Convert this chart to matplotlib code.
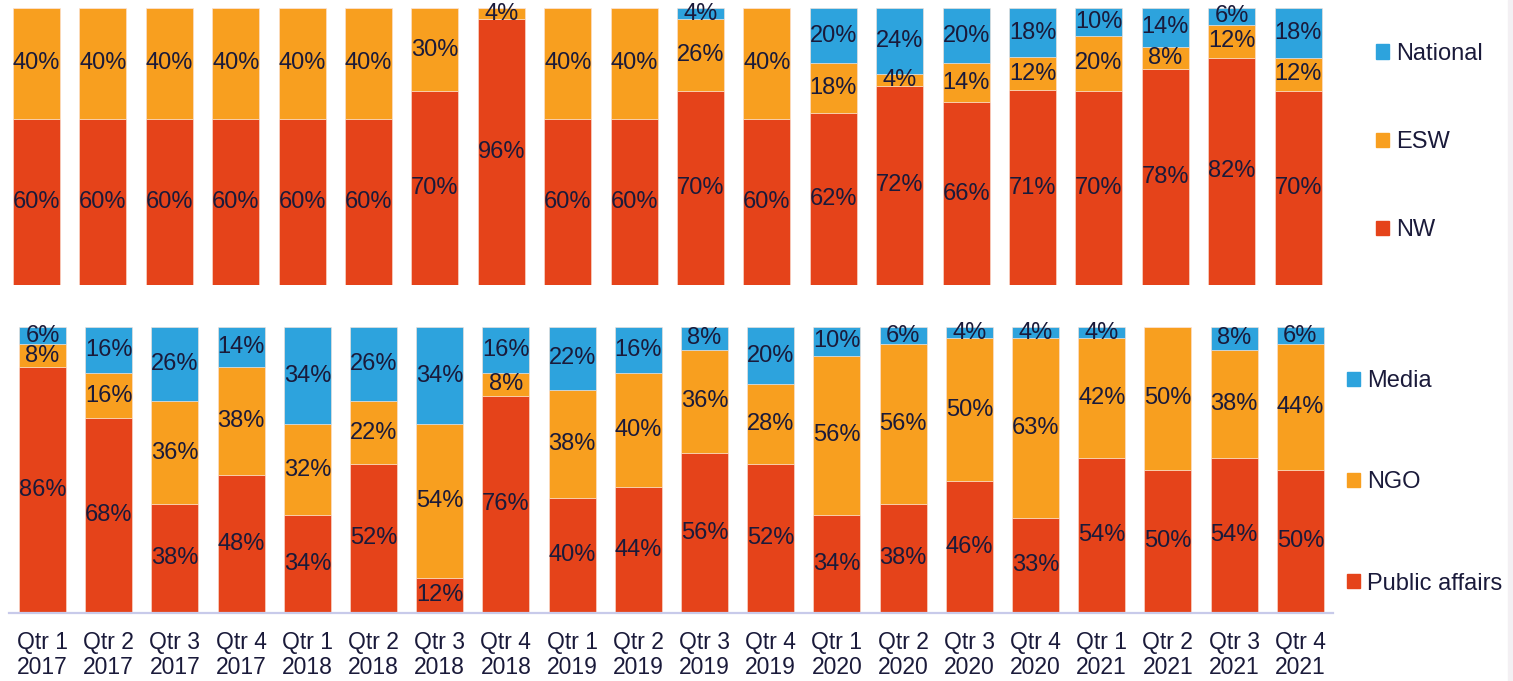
import matplotlib
matplotlib.use("Agg")
import matplotlib.pyplot as plt
import numpy as np
from matplotlib.patches import Patch, Rectangle

plt.rcParams['font.family'] = ['Liberation Sans', 'DejaVu Sans']

quarters = ["Qtr 1\n2017", "Qtr 2\n2017", "Qtr 3\n2017", "Qtr 4\n2017",
            "Qtr 1\n2018", "Qtr 2\n2018", "Qtr 3\n2018", "Qtr 4\n2018",
            "Qtr 1\n2019", "Qtr 2\n2019", "Qtr 3\n2019", "Qtr 4\n2019",
            "Qtr 1\n2020", "Qtr 2\n2020", "Qtr 3\n2020", "Qtr 4\n2020",
            "Qtr 1\n2021", "Qtr 2\n2021", "Qtr 3\n2021", "Qtr 4\n2021"]

# Top panel
nw       = [60, 60, 60, 60, 60, 60, 70, 96, 60, 60, 70, 60, 62, 72, 66, 71, 70, 78, 82, 70]
esw      = [40, 40, 40, 40, 40, 40, 30, 4, 40, 40, 26, 40, 18, 4, 14, 12, 20, 8, 12, 12]
national = [0, 0, 0, 0, 0, 0, 0, 0, 0, 0, 4, 0, 20, 24, 20, 18, 10, 14, 6, 18]

# Bottom panel
public_affairs = [86, 68, 38, 48, 34, 52, 12, 76, 40, 44, 56, 52, 34, 38, 46, 33, 54, 50, 54, 50]
ngo            = [8, 16, 36, 38, 32, 22, 54, 8, 38, 40, 36, 28, 56, 56, 50, 63, 42, 50, 38, 44]
media          = [6, 16, 26, 14, 34, 26, 34, 16, 22, 16, 8, 20, 10, 6, 4, 4, 4, 0, 8, 6]

RED = "#E5431A"
ORANGE = "#F89F1F"
BLUE = "#2DA3DD"
TXT = "#1A1A3A"

W, H = 1513, 681
fig = plt.figure(figsize=(W / 100, H / 100), dpi=100)
fig.patches.append(Rectangle((1508 / W, 0), 5 / W, 1, transform=fig.transFigure,
                             color="#F3F0F3", zorder=0))


def px_axes(left, top, right, bottom):
    return fig.add_axes([left / W, 1 - bottom / H, (right - left) / W, (bottom - top) / H])


def draw_stack(ax, series, colors):
    x = np.arange(len(quarters))
    arr = np.array(series, dtype=float)
    tot = arr.sum(axis=0)
    shares = arr / tot * 100
    base = np.zeros(len(quarters))
    for vals, raw, c in zip(shares, arr, colors):
        ax.bar(x, vals, width=0.71, bottom=base, color=c, edgecolor="#FBE3D6",
               linewidth=0.4)
        for xi, b, v, r in zip(x, base, vals, raw):
            if r > 0:
                ax.text(xi, b + v / 2, f"{int(r)}%", ha="center", va="center",
                        fontsize=17, color=TXT)
        base = base + vals
    ax.set_xlim(-0.5, len(quarters) - 0.5)
    ax.set_ylim(0, 100)
    ax.set_yticks([])
    for s in ax.spines.values():
        s.set_visible(False)


ax1 = px_axes(3.3, 8, 1331.3, 285)
draw_stack(ax1, [nw, esw, national], [RED, ORANGE, BLUE])
ax1.set_xticks([])

ax2 = px_axes(9.4, 327, 1333.4, 612.5)
draw_stack(ax2, [public_affairs, ngo, media], [RED, ORANGE, BLUE])
ax2.spines["bottom"].set_visible(True)
ax2.spines["bottom"].set_color("#C8CAEA")
ax2.spines["bottom"].set_linewidth(1.6)
ax2.set_xticks(np.arange(len(quarters)))
ax2.set_xticklabels(quarters, fontsize=16.5, color=TXT, linespacing=1.15)
ax2.tick_params(axis="x", length=0, pad=13)

leg_kw = dict(frameon=False, borderpad=0, borderaxespad=0, handlelength=0.55,
              handleheight=0.55, handletextpad=0.3, fontsize=17,
              labelcolor=TXT, loc="center left", bbox_transform=fig.transFigure)

h1 = [Patch(color=BLUE, label="National"), Patch(color=ORANGE, label="ESW"),
      Patch(color=RED, label="NW")]
fig.legend(handles=h1, bbox_to_anchor=(1376 / W, 1 - 142 / H), labelspacing=2.8, **leg_kw)

h2 = [Patch(color=BLUE, label="Media"), Patch(color=ORANGE, label="NGO"),
      Patch(color=RED, label="Public affairs")]
fig.legend(handles=h2, bbox_to_anchor=(1347 / W, 1 - 482.5 / H), labelspacing=3.35, **leg_kw)

fig.savefig("out.png", dpi=100, facecolor="white")
